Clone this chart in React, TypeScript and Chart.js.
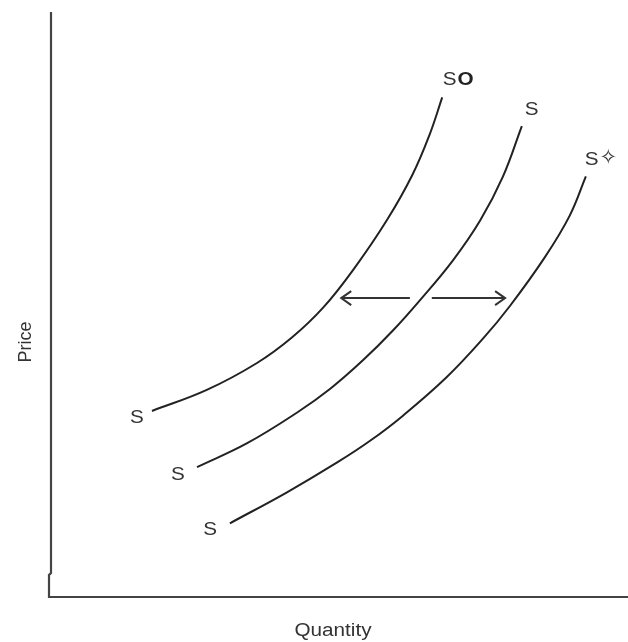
import React, { useEffect, useRef } from "react";
import { Chart, registerables } from "chart.js";

Chart.register(...registerables);

// Supply curves (Quantity, Price) in 0-100 units
const supplyS0X = [17.5, 27.0, 35.7, 41.8, 47.2, 52.5, 58.2, 62.6, 65.6, 67.8];
const supplyS0Y = [31.8, 35.4, 40.0, 44.4, 49.5, 56.1, 64.4, 72.1, 79.0, 85.4];

const supplySX = [25.3, 34.0, 42.6, 48.4, 54.1, 59.3, 64.0, 69.7, 74.4, 78.3, 81.6];
const supplySY = [22.2, 26.3, 31.5, 35.6, 40.5, 45.6, 50.8, 57.6, 64.4, 71.8, 80.5];

const supplyS1X = [31.0, 40.9, 49.6, 55.3, 61.0, 68.6, 74.9, 79.5, 85.6, 89.9, 92.7];
const supplyS1Y = [12.6, 17.9, 23.0, 26.7, 31.0, 37.6, 44.2, 49.7, 58.1, 65.2, 71.9];

// Curve labels
const topLabels = [
  { main: "S", suffix: "O", x: 67.9, y: 88.4 },
  { main: "S", suffix: "", x: 82.1, y: 83.2 },
  { main: "S", suffix: "✧", x: 92.5, y: 74.7 },
];
const bottomLabels = [
  { text: "S", x: 14.9, y: 30.6 },
  { text: "S", x: 22.0, y: 20.9 },
  { text: "S", x: 27.6, y: 11.5 },
];

// Shift arrows
const arrows = [
  { from: 62.2, to: 50.3, y: 51.1 },
  { from: 66.0, to: 78.7, y: 51.1 },
];

const xTitle = "Quantity";
const yTitle = "Price";

const toPoints = (xs: number[], ys: number[]) => xs.map((x, i) => ({ x, y: ys[i] }));

const FONT = "'Liberation Sans', Arial, sans-serif";
const STRETCH = 1.15;

function stretchedText(ctx: CanvasRenderingContext2D, text: string, x: number, y: number) {
  ctx.save();
  ctx.translate(x, y);
  ctx.scale(STRETCH, 1);
  ctx.fillText(text, 0, 0);
  ctx.restore();
}

const overlayPlugin = {
  id: "overlay",
  afterDraw(chart: any) {
    const ctx = chart.ctx as CanvasRenderingContext2D;
    const ca = chart.chartArea;
    const xs = chart.scales.x;
    const ys = chart.scales.y;
    ctx.save();

    // axes
    ctx.strokeStyle = "#444";
    ctx.lineWidth = 2.2;
    ctx.beginPath();
    ctx.moveTo(ca.left, ca.top);
    ctx.lineTo(ca.left, ca.bottom - 24);
    ctx.lineTo(ca.left - 2, ca.bottom - 22);
    ctx.lineTo(ca.left - 2, ca.bottom);
    ctx.lineTo(ca.right, ca.bottom);
    ctx.stroke();

    // arrows
    ctx.strokeStyle = "#333";
    ctx.lineWidth = 2;
    arrows.forEach((a) => {
      const x1 = xs.getPixelForValue(a.from);
      const x2 = xs.getPixelForValue(a.to);
      const y = ys.getPixelForValue(a.y);
      const dir = x2 > x1 ? 1 : -1;
      ctx.beginPath();
      ctx.moveTo(x1, y);
      ctx.lineTo(x2, y);
      ctx.moveTo(x2 - dir * 10, y - 7);
      ctx.lineTo(x2, y);
      ctx.lineTo(x2 - dir * 10, y + 7);
      ctx.stroke();
    });

    // labels
    ctx.fillStyle = "#333";
    ctx.textBaseline = "middle";
    ctx.font = `18px ${FONT}`;
    bottomLabels.forEach((l) => {
      ctx.textAlign = "center";
      stretchedText(ctx, l.text, xs.getPixelForValue(l.x), ys.getPixelForValue(l.y));
    });
    topLabels.forEach((l) => {
      const px = xs.getPixelForValue(l.x);
      const py = ys.getPixelForValue(l.y);
      ctx.textAlign = "left";
      ctx.font = `18px ${FONT}`;
      stretchedText(ctx, l.main, px, py);
      const w = ctx.measureText(l.main).width * STRETCH;
      if (l.suffix === "O") {
        ctx.font = `bold 18px ${FONT}`;
        ctx.fillStyle = "#222";
        stretchedText(ctx, l.suffix, px + w + 1, py);
        ctx.fillStyle = "#333";
      } else if (l.suffix) {
        ctx.font = `21px 'DejaVu Sans', sans-serif`;
        ctx.fillText(l.suffix, px + w + 1, py - 1);
      }
    });

    // axis titles
    ctx.font = `18px ${FONT}`;
    ctx.textAlign = "center";
    ctx.textBaseline = "alphabetic";
    ctx.fillStyle = "#333";
    stretchedText(ctx, xTitle, 333, 636);
    ctx.save();
    ctx.translate(31, 342);
    ctx.rotate(-Math.PI / 2);
    ctx.fillText(yTitle, 0, 0);
    ctx.restore();

    ctx.restore();
  },
};

export default function App() {
  const canvasRef = useRef<HTMLCanvasElement | null>(null);

  useEffect(() => {
    if (!canvasRef.current) return;
    const lineStyle = {
      showLine: true,
      pointRadius: 0,
      borderColor: "#222",
      borderWidth: 2,
      tension: 0.4,
      fill: false,
    };
    const chart = new Chart(canvasRef.current, {
      type: "scatter",
      data: {
        datasets: [
          { label: "S0", data: toPoints(supplyS0X, supplyS0Y), ...lineStyle },
          { label: "S", data: toPoints(supplySX, supplySY), ...lineStyle },
          { label: "S1", data: toPoints(supplyS1X, supplyS1Y), ...lineStyle },
        ],
      },
      options: {
        responsive: false,
        animation: false,
        layout: { padding: { left: 51, top: 12, right: 0, bottom: 45 } },
        scales: {
          x: { type: "linear", min: 0, max: 100, display: false },
          y: { type: "linear", min: 0, max: 100, display: false },
        },
        plugins: {
          legend: { display: false },
          tooltip: { enabled: false },
        },
      },
      plugins: [overlayPlugin],
    });
    return () => chart.destroy();
  }, []);

  return (
    <div style={{ position: "absolute", left: 0, top: 0, width: 628, height: 642, background: "#fff" }}>
      <canvas ref={canvasRef} width={628} height={642} />
    </div>
  );
}
